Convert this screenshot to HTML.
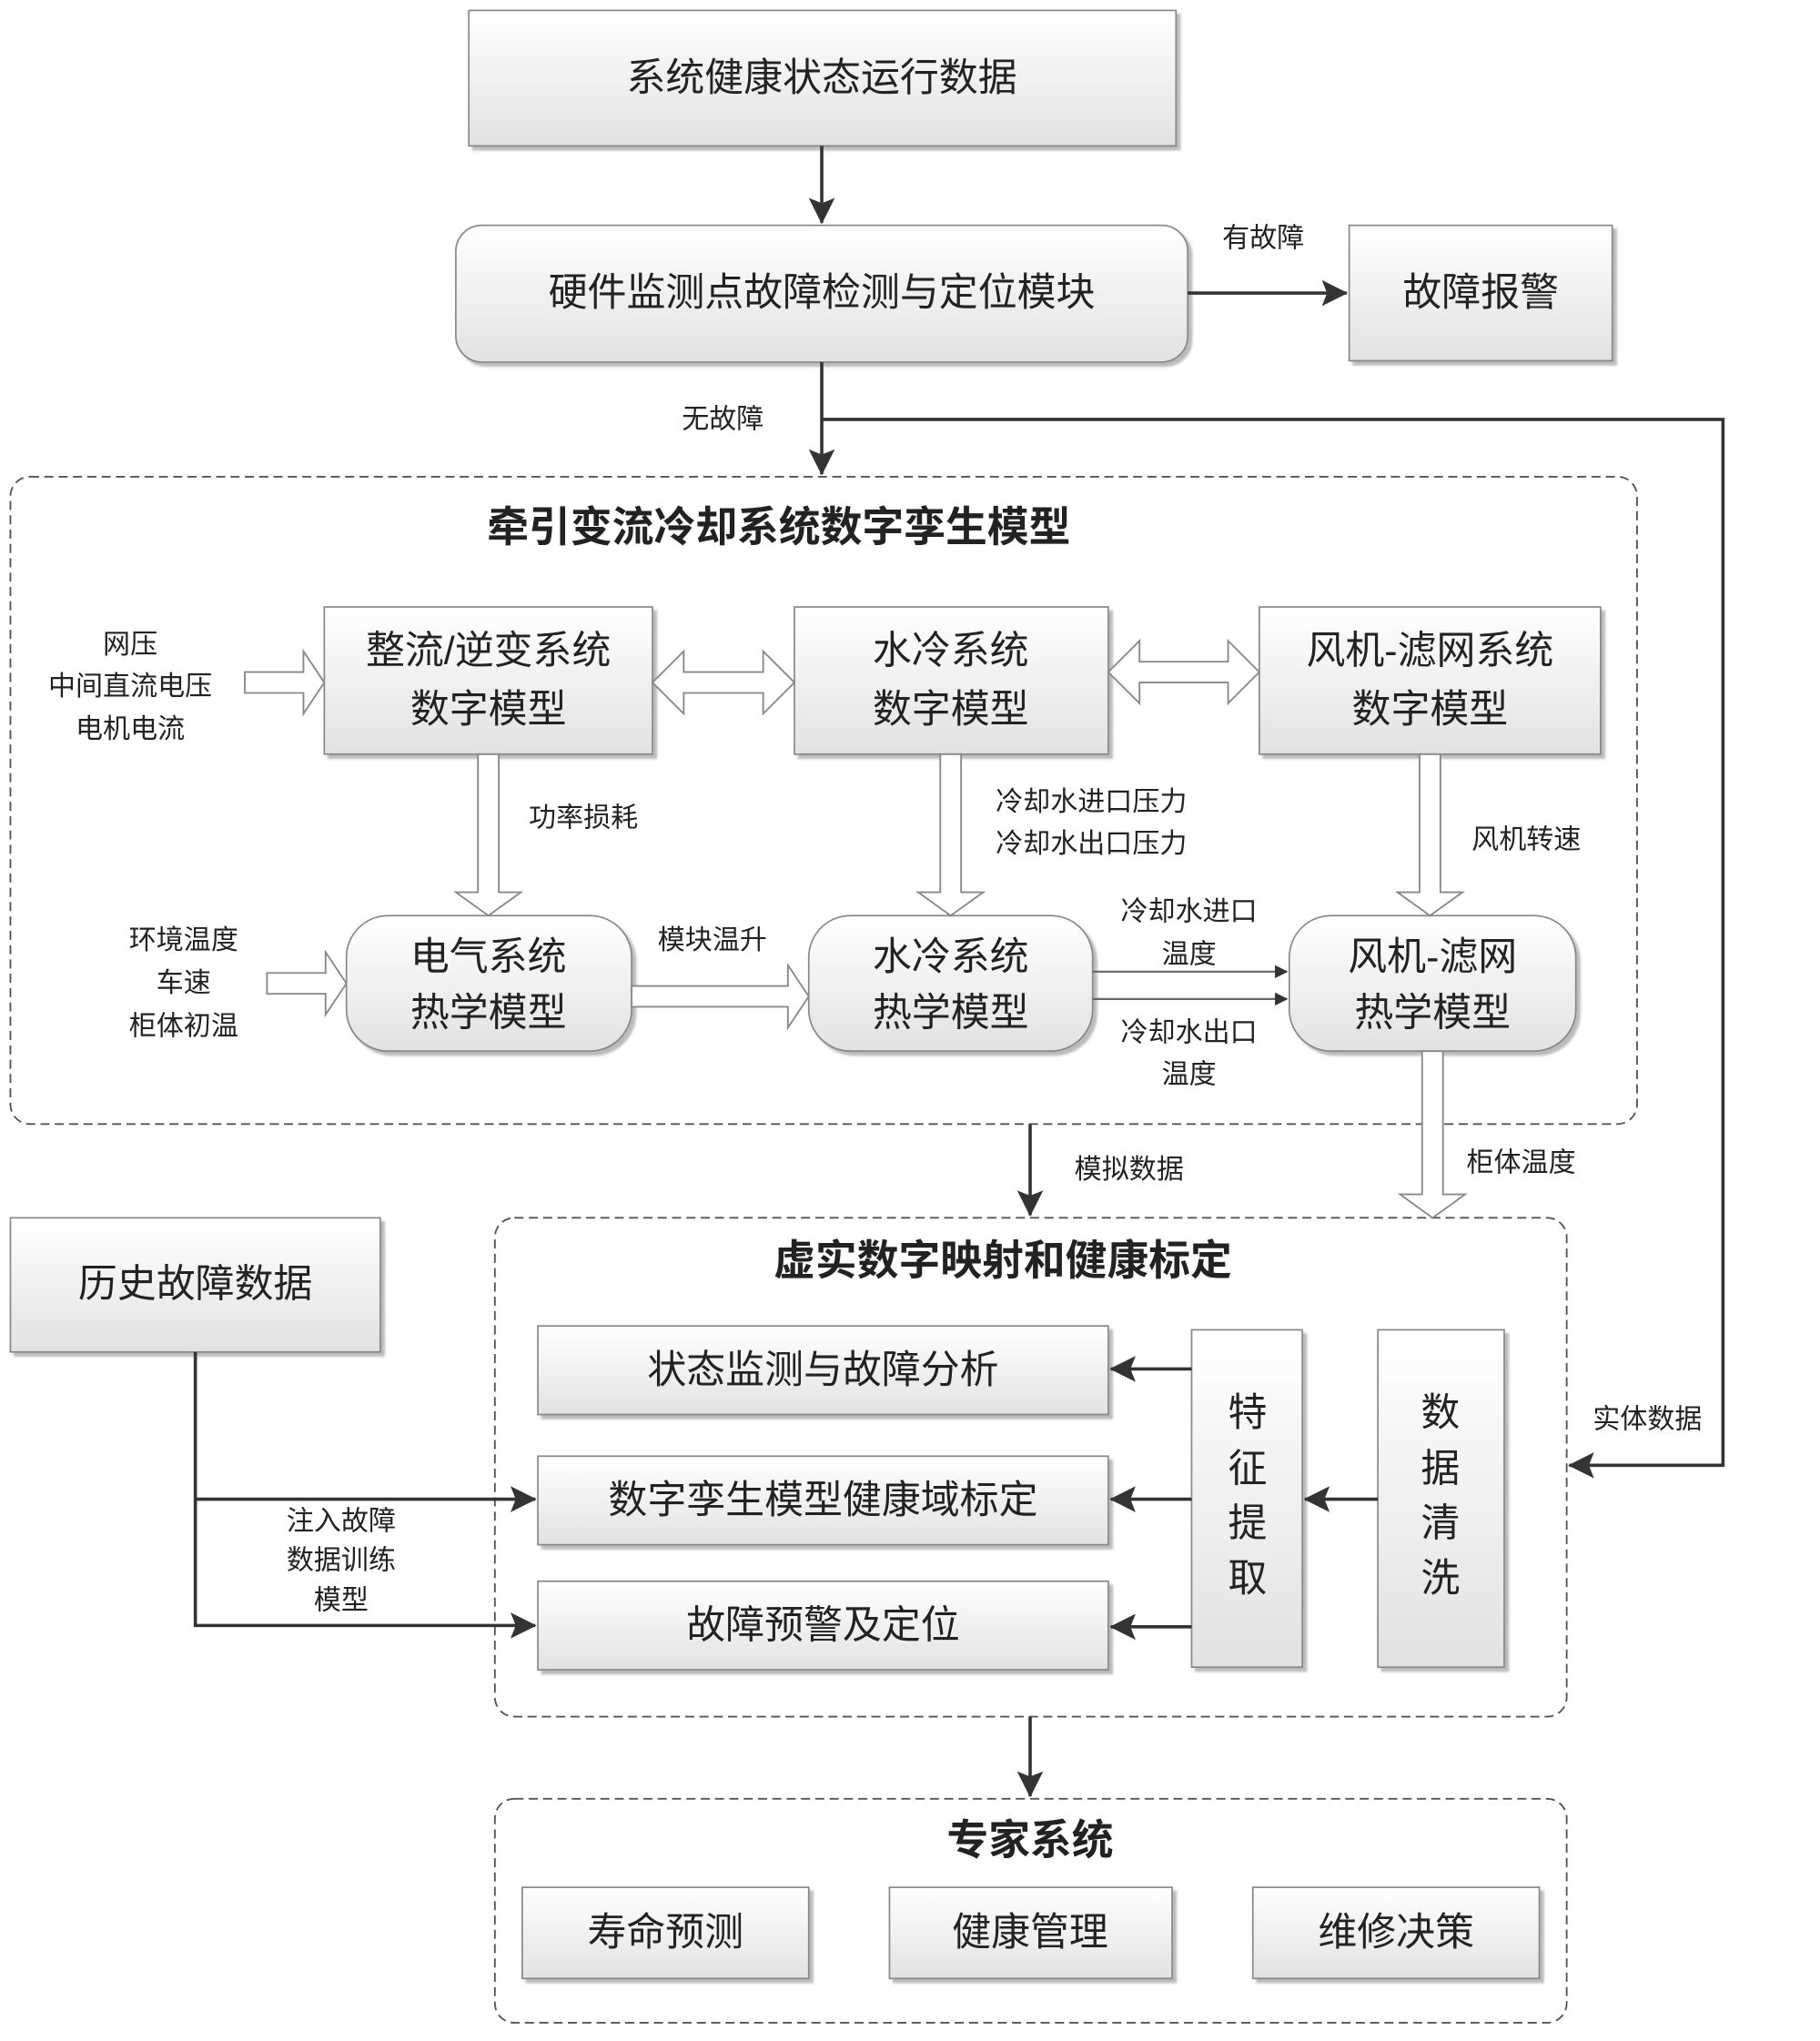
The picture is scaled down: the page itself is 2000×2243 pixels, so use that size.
<!DOCTYPE html>
<html><head><meta charset="utf-8"><style>
html,body{margin:0;padding:0;background:#fff}
svg{display:block}
text{font-family:"Liberation Sans","Noto Sans CJK SC",sans-serif;fill:#222;text-anchor:middle;dominant-baseline:central}
</style></head><body>
<svg width="2000" height="2243" viewBox="0 0 1397.5 1567" preserveAspectRatio="none" xmlns="http://www.w3.org/2000/svg">
<defs>
<linearGradient id="g" x1="0" y1="0" x2="0" y2="1"><stop offset="0" stop-color="#ffffff"/><stop offset="1" stop-color="#e2e2e2"/></linearGradient>
<marker id="ah" markerWidth="10" markerHeight="10" refX="9" refY="5" orient="auto" markerUnits="userSpaceOnUse"><path d="M0,0 L10,5 L0,10 z" fill="#333"/></marker>
<marker id="ah2" markerWidth="20" markerHeight="20" refX="19" refY="10" orient="auto" markerUnits="userSpaceOnUse"><path d="M0,0 L20,10 L0,20 L4,10 z" fill="#333"/></marker>
<filter id="sh" x="-5%" y="-5%" width="115%" height="120%"><feDropShadow dx="3" dy="3" stdDeviation="1" flood-color="#bbb"/></filter>
</defs>
<g stroke="#888" stroke-width="1.2" fill="url(#g)" filter="url(#sh)">
<rect x="360" y="8" width="543" height="104"/>
<rect x="350" y="173" width="562" height="105" rx="20"/>
<rect x="1036" y="173" width="202" height="104"/>
<rect x="249" y="466" width="252" height="113"/>
<rect x="610" y="466" width="241" height="113"/>
<rect x="967" y="466" width="262" height="113"/>
<rect x="266" y="703" width="219" height="104" rx="32"/>
<rect x="621" y="703" width="218" height="104" rx="32"/>
<rect x="990" y="703" width="220" height="104" rx="32"/>
<rect x="8" y="935" width="284" height="103"/>
<rect x="413" y="1018" width="438" height="68"/>
<rect x="413" y="1118" width="438" height="68"/>
<rect x="413" y="1214" width="438" height="68"/>
<rect x="915" y="1021" width="85" height="259"/>
<rect x="1058" y="1021" width="97" height="259"/>
<rect x="401" y="1449" width="220" height="70"/>
<rect x="683" y="1449" width="217" height="70"/>
<rect x="962" y="1449" width="220" height="70"/>
</g>
<g fill="none" stroke="#555" stroke-width="1.3" stroke-dasharray="7,4">
<rect x="8" y="366" width="1249" height="497" rx="15"/>
<rect x="380" y="935" width="823" height="383" rx="15"/>
<rect x="380" y="1381" width="823" height="172" rx="15"/>
</g>
<g stroke="#333" stroke-width="2.5" fill="none">
<line x1="631" y1="112" x2="631" y2="171" marker-end="url(#ah2)"/>
<line x1="912" y1="225" x2="1034" y2="225" marker-end="url(#ah2)"/>
<line x1="631" y1="278" x2="631" y2="364" marker-end="url(#ah2)"/>
<polyline points="631,322 1323,322 1323,1125 1205,1125" marker-end="url(#ah2)"/>
<line x1="791" y1="863" x2="791" y2="933" marker-end="url(#ah2)"/>
<line x1="791" y1="1318" x2="791" y2="1379" marker-end="url(#ah2)"/>
<line x1="915" y1="1051" x2="853" y2="1051" marker-end="url(#ah2)"/>
<line x1="915" y1="1151" x2="853" y2="1151" marker-end="url(#ah2)"/>
<line x1="915" y1="1249" x2="853" y2="1249" marker-end="url(#ah2)"/>
<line x1="1058" y1="1151" x2="1002" y2="1151" marker-end="url(#ah2)"/>
<polyline points="150,1038 150,1248 411,1248" marker-end="url(#ah2)"/>
<line x1="150" y1="1151" x2="411" y2="1151" marker-end="url(#ah2)"/>
</g>
<g stroke="#666" stroke-width="1.5" fill="none">
<line x1="839" y1="746" x2="988" y2="746" marker-end="url(#ah)"/>
<line x1="839" y1="767" x2="988" y2="767" marker-end="url(#ah)"/>
</g>
<g fill="#fff" stroke="#888" stroke-width="1.3">
<polygon points="188,516 233,516 233,500 249,524 233,548 233,532 188,532"/>
<polygon points="205,747 250,747 250,731 266,755 250,779 250,763 205,763"/>
<polygon points="485,757 605,757 605,741 621,765 605,789 605,773 485,773"/>
<polygon points="501,524 525,500 525,516 586,516 586,500 610,524 586,548 586,532 525,532 525,548"/>
<polygon points="851,516 875,492 875,508 943,508 943,492 967,516 943,540 943,524 875,524 875,540"/>
<polygon points="367,579 383,579 383,685 400,685 375,703 350,685 367,685"/>
<polygon points="722,579 738,579 738,685 755,685 730,703 705,685 722,685"/>
<polygon points="1090,579 1106,579 1106,685 1123,685 1098,703 1073,685 1090,685"/>
<polygon points="1092,807 1108,807 1108,917 1125,917 1100,935 1075,917 1092,917"/>
</g>
<g font-size="30">
<text x="631" y="60">系统健康状态运行数据</text>
<text x="631" y="225">硬件监测点故障检测与定位模块</text>
<text x="1137" y="225">故障报警</text>
<text x="375" y="500">整流/逆变系统</text><text x="375" y="545">数字模型</text>
<text x="730" y="500">水冷系统</text><text x="730" y="545">数字模型</text>
<text x="1098" y="500">风机-滤网系统</text><text x="1098" y="545">数字模型</text>
<text x="375" y="735">电气系统</text><text x="375" y="778">热学模型</text>
<text x="730" y="735">水冷系统</text><text x="730" y="778">热学模型</text>
<text x="1100" y="735">风机-滤网</text><text x="1100" y="778">热学模型</text>
<text x="150" y="986">历史故障数据</text>
<text x="632" y="1052">状态监测与故障分析</text>
<text x="632" y="1152">数字孪生模型健康域标定</text>
<text x="632" y="1248">故障预警及定位</text>
<text x="958" y="1085">特</text><text x="958" y="1128">征</text><text x="958" y="1170">提</text><text x="958" y="1212">取</text>
<text x="1106" y="1085">数</text><text x="1106" y="1128">据</text><text x="1106" y="1170">清</text><text x="1106" y="1212">洗</text>
<text x="511" y="1484">寿命预测</text>
<text x="791" y="1484">健康管理</text>
<text x="1072" y="1484">维修决策</text>
</g>
<g font-size="32" font-weight="bold">
<text x="598" y="405">牵引变流冷却系统数字孪生模型</text>
<text x="770" y="968">虚实数字映射和健康标定</text>
<text x="791" y="1413">专家系统</text>
</g>
<g font-size="21">
<text x="970" y="183">有故障</text>
<text x="555" y="322">无故障</text>
<text x="1265" y="1090">实体数据</text>
<text x="100" y="495">网压</text><text x="100" y="527">中间直流电压</text><text x="100" y="560">电机电流</text>
<text x="141" y="722">环境温度</text><text x="141" y="755">车速</text><text x="141" y="788">柜体初温</text>
<text x="448" y="628">功率损耗</text>
<text x="838" y="616">冷却水进口压力</text><text x="838" y="648">冷却水出口压力</text>
<text x="1172" y="645">风机转速</text>
<text x="547" y="722">模块温升</text>
<text x="913" y="700">冷却水进口</text><text x="913" y="733">温度</text>
<text x="913" y="793">冷却水出口</text><text x="913" y="825">温度</text>
<text x="867" y="898">模拟数据</text>
<text x="1168" y="893">柜体温度</text>
<text x="262" y="1168">注入故障</text><text x="262" y="1198">数据训练</text><text x="262" y="1229">模型</text>
</g>
</svg>
</body></html>
